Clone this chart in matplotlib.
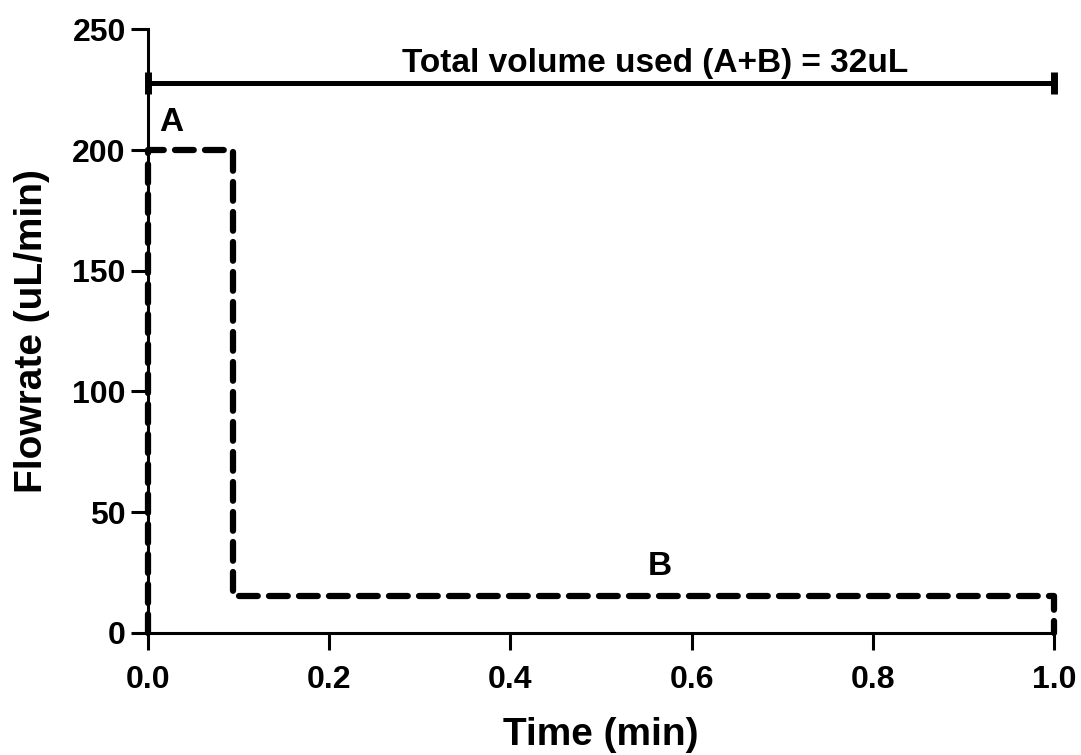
import matplotlib
matplotlib.use("Agg")
import matplotlib.pyplot as plt

plt.rcParams['font.family'] = ['Liberation Sans', 'DejaVu Sans']
plt.rcParams['font.weight'] = 'bold'

# flow profile (step A then step B)
time_min = [0.0, 0.0, 0.094, 0.094, 1.0, 1.0]
flow_ul = [0, 200, 200, 15, 15, 0]

span_x = [0.0, 1.0]
span_y = 228
span_text = "Total volume used (A+B) = 32uL"

xticks = [0.0, 0.2, 0.4, 0.6, 0.8, 1.0]
yticks = [0, 50, 100, 150, 200, 250]

fig = plt.figure(figsize=(10.81, 7.55), dpi=100)
ax = fig.add_axes([0.137, 0.162, 0.838, 0.799])

ax.plot(time_min, flow_ul, color='black', lw=4.5, dashes=(3, 1.8),
        dash_capstyle='round', solid_joinstyle='round', clip_on=False, zorder=3)

ax.plot(span_x, [span_y, span_y], color='black', lw=3.6, clip_on=False,
        marker='|', markersize=16, markeredgewidth=5)
ax.text(0.56, span_y + 1.5, span_text, ha='center', va='bottom',
        fontsize=24, fontweight='bold')
ax.text(0.026, 205, "A", ha='center', va='bottom', fontsize=24, fontweight='bold')
ax.text(0.565, 21, "B", ha='center', va='bottom', fontsize=24, fontweight='bold')

ax.set_xlim(0, 1.0)
ax.set_ylim(0, 250)
ax.set_xticks(xticks)
ax.set_xticklabels(["%.1f" % t for t in xticks])
ax.set_yticks(yticks)

for side in ['top', 'right']:
    ax.spines[side].set_visible(False)
for side in ['left', 'bottom']:
    ax.spines[side].set_linewidth(2.2)
ax.tick_params(direction='out', length=12, width=2.2, labelsize=23)
ax.tick_params(axis='x', pad=11)
ax.tick_params(axis='y', pad=4)
for lab in ax.get_xticklabels() + ax.get_yticklabels():
    lab.set_fontweight('bold')

ax.set_xlabel("Time (min)", fontsize=28, fontweight='bold', labelpad=16)
ax.set_ylabel("Flowrate (uL/min)", fontsize=28, fontweight='bold', labelpad=16)

fig.savefig("out.png", dpi=100, facecolor='white')
